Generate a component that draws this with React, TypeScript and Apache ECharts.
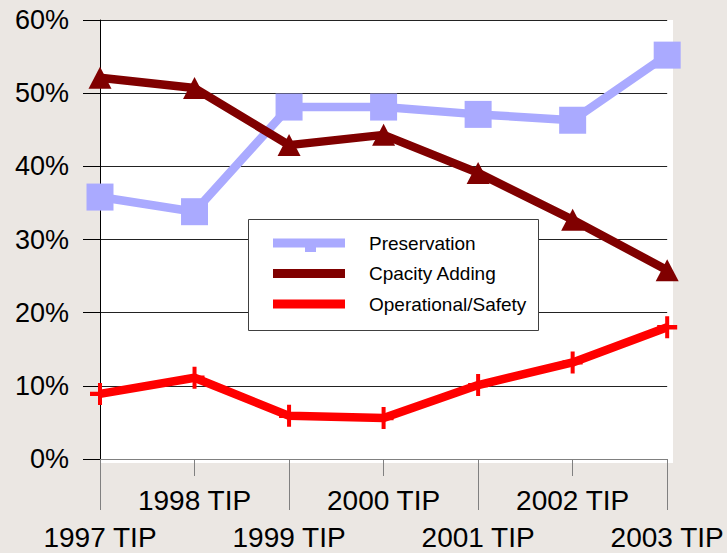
import React, { useEffect, useRef } from "react";
import * as echarts from "echarts";

const categories = ["1997 TIP", "1998 TIP", "1999 TIP", "2000 TIP", "2001 TIP", "2002 TIP", "2003 TIP"];
const preservation = [35.8, 33.8, 48.1, 48.1, 47.1, 46.3, 55.2];
const capacityAdding = [52.1, 50.7, 42.9, 44.3, 39.1, 32.7, 25.8];
const operationalSafety = [8.9, 11.1, 5.9, 5.6, 10.1, 13.2, 18.0];
const yTicks = { min: 0, max: 60, interval: 10 };

const FONT = "'Liberation Sans', Arial, Helvetica, sans-serif";
const plusPath = "path://M8,0H12V8H20V12H12V20H8V12H0V8H8Z";

export default function App() {
  const ref = useRef<HTMLDivElement>(null);
  useEffect(() => {
    document.body.style.margin = "0";
    const chart = echarts.init(ref.current!, null, { renderer: "svg" });
    const xBase = {
      type: "category",
      data: categories,
      boundaryGap: false,
      position: "bottom",
    };
    chart.setOption({
      animation: false,
      backgroundColor: "#EBE7E3",
      textStyle: { fontFamily: FONT },
      grid: { left: 100, right: 59, top: 20, bottom: 94 },
      graphic: {
        elements: [
          {
            type: "rect",
            z: -10,
            silent: true,
            shape: { x: 100, y: 20, width: 573, height: 443 },
            style: { fill: "#FFFFFF" },
          },
          {
            type: "rect",
            z: 3,
            silent: true,
            shape: { x: 248.5, y: 219.5, width: 290, height: 111 },
            style: { fill: "#FFFFFF", stroke: "#404040", lineWidth: 1 },
          },
          {
            type: "rect",
            z: 5,
            silent: true,
            shape: { x: 305, y: 240, width: 11, height: 12 },
            style: { fill: "#AAAAFF" },
          },
        ],
      },
      legend: {
        z: 4,
        orient: "vertical",
        left: 273,
        top: 233,
        padding: 0,
        itemWidth: 72,
        itemHeight: 9,
        itemGap: 10.5,
        icon: "rect",
        textStyle: {
          fontFamily: FONT,
          fontSize: 19,
          lineHeight: 20,
          color: "#000",
          padding: [0, 0, 0, 19],
        },
        data: [
          { name: "Preservation", itemStyle: { color: "#AAAAFF" } },
          { name: "Cpacity Adding", itemStyle: { color: "#800000" } },
          { name: "Operational/Safety", itemStyle: { color: "#FF0000" } },
        ],
      },
      xAxis: [
        {
          ...xBase,
          axisLine: { show: true, lineStyle: { color: "#808080", width: 1 } },
          axisTick: {
            show: true,
            length: 51,
            interval: (i: number) => i % 2 === 0,
            lineStyle: { color: "#808080" },
          },
          axisLabel: {
            interval: (i: number) => i % 2 === 0,
            margin: 62,
            fontSize: 28,
            lineHeight: 32,
            color: "#000",
            fontFamily: FONT,
          },
          splitLine: { show: false },
        },
        {
          ...xBase,
          axisLine: { show: false },
          axisTick: {
            show: true,
            length: 17,
            interval: (i: number) => i % 2 === 1,
            lineStyle: { color: "#808080" },
          },
          axisLabel: {
            interval: (i: number) => i % 2 === 1,
            margin: 25,
            fontSize: 28,
            lineHeight: 32,
            color: "#000",
            fontFamily: FONT,
          },
          splitLine: { show: false },
        },
      ],
      yAxis: {
        type: "value",
        min: yTicks.min,
        max: yTicks.max,
        interval: yTicks.interval,
        axisLine: { show: true, lineStyle: { color: "#000", width: 1 } },
        axisTick: { show: true, length: 17, lineStyle: { color: "#000" } },
        axisLabel: {
          formatter: "{value}%",
          margin: 31,
          fontSize: 27,
          color: "#000",
          fontFamily: FONT,
        },
        splitLine: { show: true, lineStyle: { color: "#222", width: 1 } },
      },
      series: [
        {
          name: "Preservation",
          type: "line",
          data: preservation,
          symbol: "rect",
          symbolSize: 27,
          lineStyle: { color: "#AAAAFF", width: 8.5 },
          itemStyle: { color: "#AAAAFF" },
        },
        {
          name: "Cpacity Adding",
          type: "line",
          data: capacityAdding,
          symbol: "triangle",
          symbolSize: [23, 22],
          lineStyle: { color: "#800000", width: 8.5 },
          itemStyle: { color: "#800000" },
        },
        {
          name: "Operational/Safety",
          type: "line",
          data: operationalSafety,
          symbol: plusPath,
          symbolSize: [20, 22],
          lineStyle: { color: "#FF0000", width: 8.5 },
          itemStyle: { color: "#FF0000" },
        },
      ],
    });
    return () => chart.dispose();
  }, []);
  return (
    <div
      ref={ref}
      style={{ position: "fixed", left: 0, top: 0, width: 727, height: 553 }}
    />
  );
}
